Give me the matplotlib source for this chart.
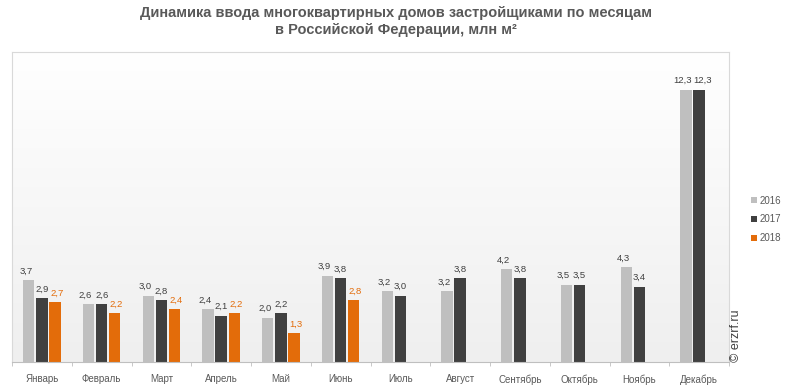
import numpy as np
import matplotlib.pyplot as plt

plt.rcParams['font.family'] = ['Liberation Sans', 'DejaVu Sans']

months = ["Январь", "Февраль", "Март", "Апрель", "Май", "Июнь",
          "Июль", "Август", "Сентябрь", "Октябрь", "Ноябрь", "Декабрь"]
v2016 = [3.7, 2.6, 3.0, 2.4, 2.0, 3.9, 3.2, 3.2, 4.2, 3.5, 4.3, 12.3]
v2017 = [2.9, 2.6, 2.8, 2.1, 2.2, 3.8, 3.0, 3.8, 3.8, 3.5, 3.4, 12.3]
v2018 = [2.7, 2.2, 2.4, 2.2, 1.3, 2.8]
years = ["2016", "2017", "2018"]
colors = ["#bfbfbf", "#404040", "#e36c0a"]
label_colors = ["#404040", "#404040", "#e36c0a"]

fig = plt.figure(figsize=(7.91, 3.92), dpi=100)
ax = fig.add_axes([12/791, 30/392, 717/791, 310/392])

# background gradient (white at top, light gray at bottom)
grad = np.linspace(0, 1, 256).reshape(-1, 1)
ax.imshow(grad, aspect='auto', cmap=plt.matplotlib.colors.LinearSegmentedColormap.from_list(
    "bg", ["#efefef", "#ffffff"]), extent=[-0.5, 11.5, 0, 14], origin='lower', zorder=0)

x = np.arange(len(months))
w = 0.19
step = 0.22
series = [v2016, v2017, v2018]
nudge = [-0.05, 0.0, 0.03]  # spread labels a little so neighbours don't collide
handles = []
for i, vals in enumerate(series):
    xs = x[:len(vals)] + (i - 1) * step
    b = ax.bar(xs, vals, w, color=colors[i], zorder=2, label=years[i])
    handles.append(b)
    for xx, vv in zip(xs, vals):
        txt = f"{vv:.1f}".replace(".", ",")
        if vv >= 10 and i < 2:
            # wide labels: butt them against the gap between the two bars
            mid = xx + step / 2 if i == 0 else xx - step / 2
            ax.text(mid + (-0.006 if i == 0 else 0.006), vv + 0.2, txt,
                    ha='right' if i == 0 else 'left', va='bottom', fontsize=6.8, color=label_colors[i])
        else:
            ax.text(xx + nudge[i], vv + 0.2, txt, ha='center', va='bottom',
                    fontsize=6.8, color=label_colors[i])

ax.set_xlim(-0.5, 11.5)
ax.set_ylim(0, 14)
ax.set_yticks([])
ax.set_xticks(x)
ax.set_xticklabels(months, fontsize=7, color="#595959")
ax.tick_params(axis='x', length=0, pad=9)
ax.set_xticks(np.arange(-0.5, 12, 1), minor=True)
ax.tick_params(axis='x', which='minor', length=3, color="#bfbfbf", direction='out')
for s in ["top", "left", "right"]:
    ax.spines[s].set_color("#d9d9d9")
ax.spines["bottom"].set_color("#bfbfbf")

fig.text(0.5, 1 - 6/392,
         "Динамика ввода многоквартирных домов застройщиками по месяцам\nв Российской Федерации, млн м²",
         ha='center', va='top', fontsize=10.5, fontweight='bold', color="#595959", linespacing=1.3)

leg = fig.legend(handles=handles, labels=years, loc='upper left', bbox_to_anchor=(742/791, 205/392),
                 frameon=False, fontsize=7, handlelength=0.6, handleheight=0.6, handletextpad=0.3,
                 labelspacing=0.9, labelcolor="#595959")

fig.text(736/791, 30/392, "© erzrf.ru", rotation=90, fontsize=9, color="#404040",
         ha='center', va='bottom')

fig.savefig("out.png", dpi=100)
